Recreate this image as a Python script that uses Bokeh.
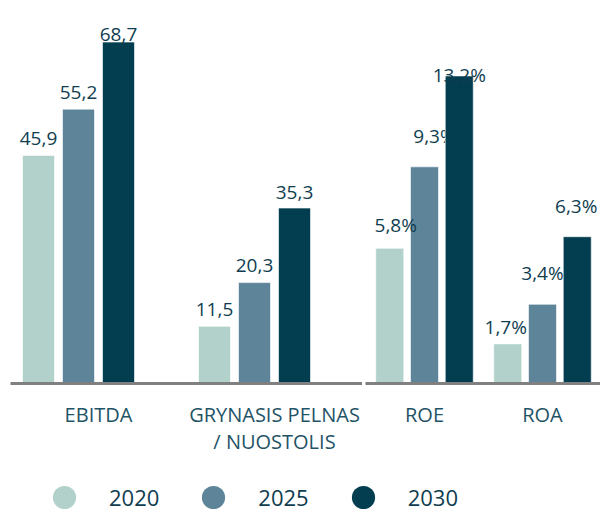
from bokeh.plotting import figure
from bokeh.models import Range1d, FixedTicker, Legend, LegendItem
from bokeh.layouts import column, row
from bokeh.core.properties import value
from bokeh.embed import file_html
from bokeh.resources import INLINE

# ---------------- data ----------------
years = ["2020", "2025", "2030"]
money_categories = ["EBITDA", "GRYNASIS PELNAS\n/ NUOSTOLIS"]
money_2020 = [45.9, 11.5]
money_2025 = [55.2, 20.3]
money_2030 = [68.7, 35.3]
ratio_categories = ["ROE", "ROA"]
ratio_2020 = [5.8, 1.7]
ratio_2025 = [9.3, 3.4]
ratio_2030 = [13.2, 6.3]

# ---------------- style ----------------
colors = ["#b1d1ca", "#5e8499", "#023d50"]
value_color = "#0f3d4f"
cat_color = "#1f5366"
axis_color = "#808080"
FONT = "Open Sans"

# label placement (pixel gaps between bar top and text baseline, x nudges)
money_gap = [[17, 17], [17, 17], [8, 16]]
money_dx = [[0, 0], [0, 0], [0, 0]]
ratio_gap = [[23, 17], [31, 31], [1, 31]]
ratio_dx = [[6, -2], [10, 0], [0, -1]]

TOP = 8
FRAME_H = 375
BOTTOM = 90
TOTAL_H = 510
LEFT_FRAME_W = 352
RIGHT_FRAME_W = 235
LEFT_PX = LEFT_FRAME_W / 2      # px per category unit
RIGHT_PX = 118.0
LEFT_SCALE = 4.97               # px per value unit
RIGHT_SCALE = 23.3


def fmt(v, pct):
    s = f"{v:.1f}".replace(".", ",")
    return s + "%" if pct else s


def make_panel(cats, series, gaps, dxs, px, slot_px, bar_px, n_slots, scale,
               frame_w, border_left, pct):
    p = figure(frame_width=frame_w, frame_height=FRAME_H,
               x_range=Range1d(-0.5, -0.5 + frame_w / px),
               y_range=Range1d(0, FRAME_H / scale),
               output_backend="svg", toolbar_location=None,
               y_axis_location=None,
               min_border_left=border_left, min_border_right=0,
               min_border_top=TOP, min_border_bottom=BOTTOM)
    p.outline_line_color = None
    p.grid.visible = False
    p.background_fill_color = "white"
    p.border_fill_color = "white"

    ax = p.xaxis[0]
    ax.ticker = FixedTicker(ticks=list(range(len(cats))))
    ax.major_label_overrides = {i: c for i, c in enumerate(cats)}
    ax.major_tick_line_color = None
    ax.minor_tick_line_color = None
    ax.axis_line_color = axis_color
    ax.axis_line_width = 3
    ax.major_label_standoff = 11
    ax.major_label_text_font = FONT
    ax.major_label_text_font_size = "20px"
    ax.major_label_text_color = cat_color
    ax.major_label_text_line_height = 1.0

    slot = slot_px / px
    width = bar_px / px
    xs_all = []
    for i, vals in enumerate(series):
        off = (i - (n_slots - 1) / 2) * slot
        xs_all.append([k + off for k in range(len(cats))])

    def bars(i):
        p.vbar(x=xs_all[i], top=series[i], bottom=0, width=width,
               fill_color=colors[i], line_color="white", line_width=1,
               line_alpha=0.6)

    def labels(i):
        p.text(x=xs_all[i], y=series[i],
               text=[fmt(v, pct) for v in series[i]],
               x_offset=dxs[i], y_offset=[-g for g in gaps[i]],
               text_align="center", text_baseline="alphabetic",
               text_font=value(FONT), text_font_size="19px",
               text_color=value_color)

    bars(0)
    bars(1)
    labels(0)
    labels(1)
    bars(2)
    labels(2)
    return p


left = make_panel(money_categories, [money_2020, money_2025, money_2030],
                  money_gap, money_dx, LEFT_PX, 40, 32, 4, LEFT_SCALE,
                  LEFT_FRAME_W, 10, False)
right = make_panel(ratio_categories, [ratio_2020, ratio_2025, ratio_2030],
                   ratio_gap, ratio_dx, RIGHT_PX, 34.75, 28, 3, RIGHT_SCALE,
                   RIGHT_FRAME_W, 3, True)

# ---------------- legend ----------------
LEG_H = TOTAL_H - (TOP + FRAME_H + BOTTOM)
leg = figure(width=600, height=LEG_H, x_range=Range1d(0, 1), y_range=Range1d(0, 1),
             output_backend="svg", toolbar_location=None,
             x_axis_location=None, y_axis_location=None, min_border=0)
leg.outline_line_color = None
leg.grid.visible = False
items = []
for k, (yr, c) in enumerate(zip(years, colors)):
    # legend-only renderers: their single point sits outside the visible range
    r = leg.scatter(x=[-1 - k], y=[-1], marker="circle", size=10, fill_color=c,
                    line_color=None)
    items.append(LegendItem(label=yr, renderers=[r]))
legend = Legend(items=items, orientation="horizontal",
                location=(35, LEG_H - 53),
                glyph_width=58, glyph_height=58, label_standoff=16, spacing=25,
                padding=0, margin=0, border_line_color=None,
                background_fill_alpha=0, label_text_font=FONT,
                label_text_font_size="22px", label_text_color=value_color)
leg.add_layout(legend)

layout = column(row(left, right), leg)
open("out.html", "w").write(file_html(layout, INLINE))
